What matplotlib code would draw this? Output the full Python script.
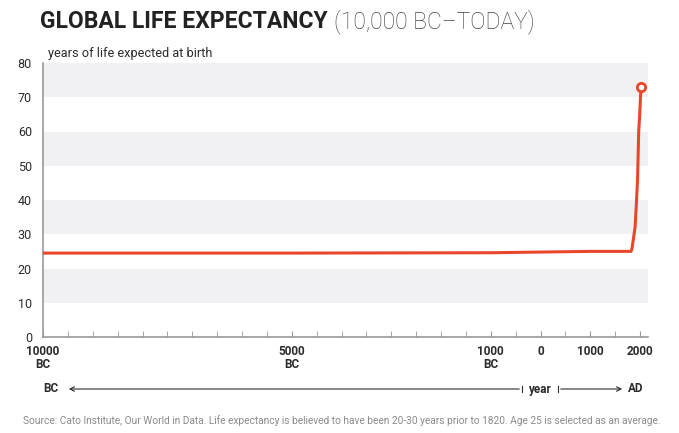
import numpy as np
import matplotlib.pyplot as plt
from matplotlib.patches import FancyArrowPatch

# Data
years = [-10000, -5000, -1000, 0, 1000, 1820, 1840, 1870, 1900, 1930, 1950, 1960, 1973, 1990, 2000, 2019]
life_exp = [24.5, 24.5, 24.6, 24.8, 25.0, 25.0, 26.0, 29.0, 32.0, 40.0, 46.0, 52.0, 60.0, 64.0, 67.0, 73.0]

tick_pos = [-10000, -5000, -1000, 0, 1000, 2000]
tick_lbl = ['10000\nBC', '5000\nBC', '1000\nBC', '0', '1000', '2000']
y_ticks = [0, 10, 20, 30, 40, 50, 60, 70, 80]

RED = '#e9462b'
BAND = '#f1f1f3'
DARK = '#2b2b2b'
FONT = 'Roboto'

fig = plt.figure(figsize=(6.79, 4.33), dpi=100)
ax = fig.add_axes([43 / 679, 1 - 337 / 433, 605 / 679, 274 / 433])

# bandes grises
for lo in range(10, 80, 20):
    ax.axhspan(lo, lo + 10, color=BAND, lw=0, zorder=0)

ax.plot(years, life_exp, color=RED, lw=2.2, zorder=3, solid_capstyle='round')
ax.plot(years[-1], life_exp[-1], 'o', ms=6, mfc='white', mec=RED, mew=2, zorder=4)

ax.set_xlim(-10000, 2160)
ax.set_ylim(0, 80)
ax.set_yticks(y_ticks)
ax.set_yticklabels([str(v) for v in y_ticks], fontsize=9, color=DARK, family=FONT)
ax.tick_params(axis='y', length=0, pad=8)

ax.set_xticks(np.arange(-10000, 2001, 500), minor=True)
ax.set_xticks(tick_pos)
ax.set_xticklabels(tick_lbl, fontsize=8.5, color=DARK, family=FONT, fontweight='bold', linespacing=0.95)
ax.tick_params(axis='x', which='both', direction='in', length=4, color='#999999', pad=6)

for s in ['top', 'right']:
    ax.spines[s].set_visible(False)
for s in ['left', 'bottom']:
    ax.spines[s].set_color('#999999')
    ax.spines[s].set_linewidth(1.2)

ax.text(-9900, 81, 'years of life expected at birth', fontsize=9.2, color=DARK, family=FONT,
        va='bottom', ha='left')

# titre
t1 = fig.text(40 / 679, 1 - 22 / 433, 'GLOBAL LIFE EXPECTANCY', fontsize=16.5, fontweight='bold',
              family=FONT, color='#222222', va='center', ha='left')
fig.canvas.draw()
bb = t1.get_window_extent()
fig.text((bb.x1 + 6) / 679, 1 - 22 / 433, '(10,000 BC\u2013TODAY)', fontsize=16.5, fontweight='light',
         family=FONT, color='#444444', va='center', ha='left')

# flèches BC / year / AD
ya = 1 - 389 / 433
fig.text(43 / 679, ya, 'BC', fontsize=8.5, fontweight='bold', family=FONT, color=DARK, va='center')
fig.text(528 / 679, ya, 'year', fontsize=8.5, fontweight='bold', family=FONT, color=DARK, va='center')
fig.text(628 / 679, ya, 'AD', fontsize=8.5, fontweight='bold', family=FONT, color=DARK, va='center')
fig.add_artist(plt.Line2D([522 / 679, 522 / 679], [ya - 0.006, ya + 0.006], color=DARK, lw=0.8))
fig.add_artist(plt.Line2D([558 / 679, 558 / 679], [ya - 0.006, ya + 0.006], color=DARK, lw=0.8))
fig.patches.append(FancyArrowPatch((522 / 679, ya), (66 / 679, ya), transform=fig.transFigure,
                                   arrowstyle='->', mutation_scale=8, color=DARK, lw=0.8))
fig.patches.append(FancyArrowPatch((558 / 679, ya), (625 / 679, ya), transform=fig.transFigure,
                                   arrowstyle='->', mutation_scale=8, color=DARK, lw=0.8))

fig.text(23 / 679, 1 - 421 / 433,
         'Source: Cato Institute, Our World in Data. Life expectancy is believed to have been 20-30 years '
         'prior to 1820. Age 25 is selected as an average.',
         fontsize=7.3, family=FONT, color='#8a8a8a', va='center', ha='left')

fig.savefig('out.png', dpi=100)
